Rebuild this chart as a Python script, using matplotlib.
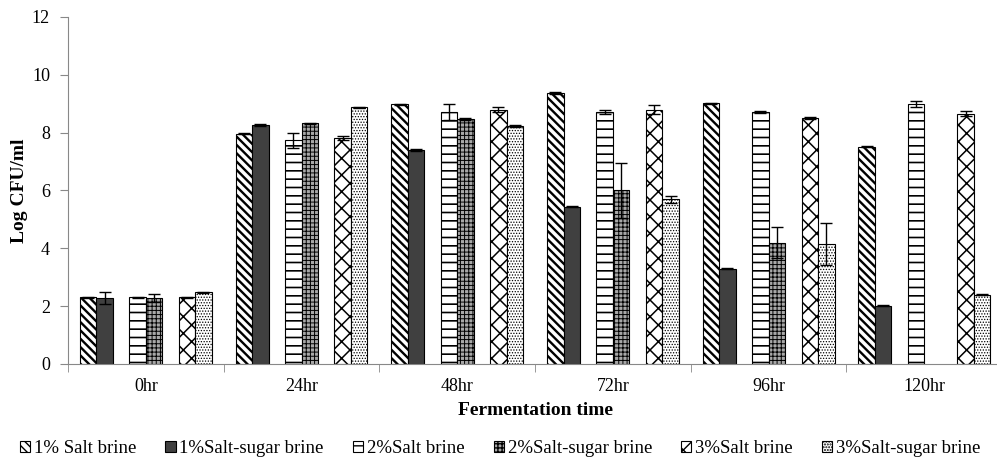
import matplotlib
matplotlib.use("Agg")
import matplotlib.pyplot as plt
import numpy as np

# data
times = ["0hr", "24hr", "48hr", "72hr", "96hr", "120hr"]
series_names = [
    "1% Salt brine",
    "1%Salt-sugar brine",
    "2%Salt brine",
    "2%Salt-sugar brine",
    "3%Salt brine",
    "3%Salt-sugar brine",
]
salt1 = [2.30, 7.97, 8.98, 9.38, 9.02, 7.51]
salt1_err = [0.02, 0.02, 0.02, 0.04, 0.02, 0.02]
sugar1 = [2.29, 8.27, 7.40, 5.44, 3.29, 2.01]
sugar1_err = [0.20, 0.03, 0.02, 0.02, 0.02, 0.02]
salt2 = [2.30, 7.73, 8.72, 8.73, 8.71, 8.98]
salt2_err = [0.02, 0.25, 0.27, 0.07, 0.04, 0.10]
sugar2 = [2.29, 8.33, 8.47, 6.01, 4.20, np.nan]
sugar2_err = [0.14, 0.02, 0.02, 0.95, 0.53, np.nan]
salt3 = [2.30, 7.80, 8.79, 8.80, 8.50, 8.66]
salt3_err = [0.03, 0.07, 0.08, 0.14, 0.04, 0.09]
sugar3 = [2.48, 8.87, 8.22, 5.69, 4.15, 2.40]
sugar3_err = [0.02, 0.02, 0.03, 0.11, 0.72, 0.02]

values = [salt1, sugar1, salt2, sugar2, salt3, sugar3]
errors = [salt1_err, sugar1_err, salt2_err, sugar2_err, salt3_err, sugar3_err]

# bar styling: facecolor, hatch, hatch linewidth
styles = [
    ("white", "\\\\\\\\", 1.7),
    ("#404040", "", 1.0),
    ("white", "--", 1.2),
    ("#a8a8a8", "++++", 0.7),
    ("white", "xx", 1.1),
    ("white", "......", 0.6),
]
slots = [0, 1, 3, 4, 6, 7]

serif = ["Liberation Serif", "DejaVu Serif"]
plt.rcParams["font.family"] = serif

fig = plt.figure(figsize=(9.97, 4.59), dpi=100)
ax = fig.add_axes([0.0682, 0.207, 0.937, 0.756])

x = np.arange(len(times))
w = 0.1058
for name, vals, errs, (fc, hatch, hlw), k in zip(series_names, values, errors, styles, slots):
    pos = x + (k - 3.5) * w
    bars = ax.bar(pos, vals, width=w, color=fc, edgecolor="black",
                  linewidth=0.8, hatch=hatch, label=name, zorder=2)
    for b in bars:
        b.set_hatch_linewidth(hlw)
    ax.errorbar(pos, vals, yerr=errs, fmt="none", ecolor="black",
                elinewidth=1.0, capsize=4, capthick=1.0, zorder=3)

ax.set_xlim(-0.5, len(times) - 0.5)
ax.set_ylim(0, 12)
ax.set_yticks(range(0, 13, 2))
ax.set_xticks(x)
ax.set_xticklabels(times)
ax.set_xticks(np.arange(-0.5, len(times) - 0.4, 1.0), minor=True)
ax.tick_params(axis="x", which="major", length=0, labelsize=13, pad=10)
ax.tick_params(axis="x", which="minor", length=6, color="#888888")
ax.tick_params(axis="y", length=6, color="#888888", labelsize=13, pad=7)

for side in ["top", "right"]:
    ax.spines[side].set_visible(False)
for side in ["left", "bottom"]:
    ax.spines[side].set_color("#888888")

ax.set_ylabel("Log CFU/ml", fontsize=14, fontweight="bold", labelpad=3)
ax.set_xlabel("Fermentation time", fontsize=14, fontweight="bold", labelpad=5)

fig.legend(loc="center", bbox_to_anchor=(0.5015, 0.022), ncol=6, frameon=False,
           fontsize=13.5, handlelength=0.55, handleheight=0.55,
           handletextpad=0.2, columnspacing=1.55, borderpad=0)

fig.savefig("out.png", dpi=100)
